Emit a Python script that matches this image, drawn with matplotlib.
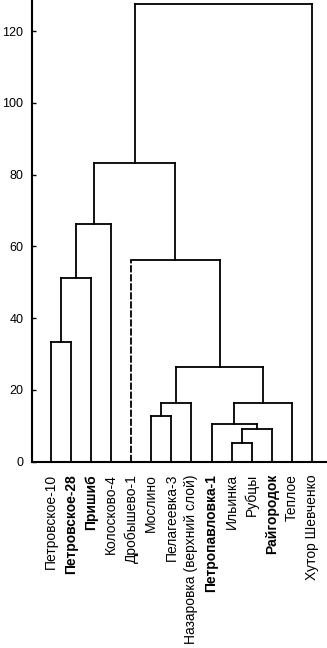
import numpy as np
import matplotlib
matplotlib.use('Agg')
import matplotlib.pyplot as plt

""" Dendrogram of sampling sites (values read off the reference) """

labels = ['Петровское-10', 'Петровское-28', 'Пришиб', 'Колосково-4',
          'Дробышево-1', 'Мослино', 'Пелагеевка-3',
          'Назаровка (верхний слой)', 'Петропавловка-1', 'Ильинка',
          'Рубцы', 'Райгородок', 'Теплое', 'Хутор Шевченко']
bold_labels = ['Петровское-28', 'Пришиб', 'Петропавловка-1', 'Райгородок']

# linkage: cluster n+k joins merge_left[k] and merge_right[k] at merge_height[k]
merge_left = [9, 14, 8, 5, 17, 16, 18, 0, 21, 4, 22, 24, 25]
merge_right = [10, 11, 15, 6, 7, 12, 19, 1, 2, 20, 3, 23, 13]
merge_height = [5.1, 9.0, 10.5, 12.7, 16.2, 16.2, 26.3,
                33.4, 51.3, 56.2, 66.2, 83.2, 127.5]
y_ticks = [0, 20, 40, 60, 80, 100, 120]


def draw_dendrogram(ax, n, left, right, height, lw=1.3):
    """Draws the U-shaped links; leaves sit at x = 1..n, clusters at the mean of children."""
    xpos = list(np.arange(1, n + 1, dtype=float))
    ypos = [0.0] * n
    for a, b, h in zip(left, right, height):
        xa, xb = xpos[a], xpos[b]
        ls = (0, (4, 1)) if a == 4 else '-'  # Дробышево-1 stem looks dashed
        ax.plot([xa, xa], [ypos[a], h], color='black', lw=lw, ls=ls,
                solid_capstyle='projecting')
        ax.plot([xb, xb], [ypos[b], h], color='black', lw=lw,
                solid_capstyle='projecting')
        ax.plot([xa, xb], [h, h], color='black', lw=lw,
                solid_capstyle='projecting')
        xpos.append((xa + xb) / 2)
        ypos.append(h)


fig = plt.figure(figsize=(3.27, 6.48), dpi=100)
ax = fig.add_axes([31.7 / 327, 1 - 461.5 / 648, 1 - 31.7 / 327, 461.5 / 648])

draw_dendrogram(ax, len(labels), merge_left, merge_right, merge_height)

ax.set_xlim(0.04, 14.75)
ax.set_ylim(0, 128.7)
ax.set_yticks(y_ticks)
ax.set_yticklabels([str(t) for t in y_ticks], fontsize=9,
                   family='Liberation Sans')
ax.set_xticks(np.arange(1, len(labels) + 1))
ax.set_xticklabels(labels, rotation=90, fontsize=10, family='Liberation Sans',
                   va='top', ha='center')
for t in ax.get_xticklabels():
    if t.get_text() in bold_labels:
        t.set_fontweight('semibold')
ax.tick_params(axis='y', direction='in', length=3, width=1, pad=6)
ax.tick_params(axis='x', direction='in', length=0, pad=9)

for s in ['top', 'right']:
    ax.spines[s].set_visible(False)
for s in ['left', 'bottom']:
    ax.spines[s].set_linewidth(1.5)

fig.savefig('out.png', dpi=100)
